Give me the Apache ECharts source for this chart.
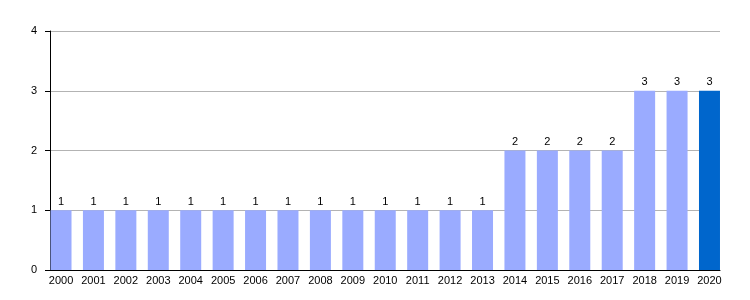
<!DOCTYPE html>
<html><head><meta charset="utf-8">
<script src="https://cdn.jsdelivr.net/npm/echarts@6/dist/echarts.min.js"></script>
<style>html,body{margin:0;padding:0;background:#fff}#c{width:750px;height:300px}</style>
</head><body><div id="c"></div>
<script>
const years = ['2000','2001','2002','2003','2004','2005','2006','2007','2008','2009','2010','2011','2012','2013','2014','2015','2016','2017','2018','2019','2020'];
const counts = [1,1,1,1,1,1,1,1,1,1,1,1,1,1,2,2,2,2,3,3,3];
const yTicks = [0,1,2,3,4];
const lightBlue = '#9aabff';
const darkBlue = '#0066cc';
const font = 'Liberation Sans, Arial, sans-serif';
const chart = echarts.init(document.getElementById('c'), null, {renderer:'canvas'});
chart.setOption({
  animation:false,
  grid:[
    {left:50, right:30, top:31, bottom:30},
    {left:44.8, right:24.3, top:31, bottom:30}
  ],
  xAxis:[
    {gridIndex:0, type:'value', min:0, max:1, axisLine:{show:true, lineStyle:{color:'#000', width:1}}, axisTick:{show:false}, axisLabel:{show:false}, splitLine:{show:false}},
    {gridIndex:1, type:'category', data:years, axisLine:{show:false}, axisTick:{show:false}, axisLabel:{color:'#000', fontSize:11, fontFamily:font, margin:5}}
  ],
  yAxis:[
    {gridIndex:0, type:'value', min:yTicks[0], max:yTicks[yTicks.length-1], interval:1,
     axisLine:{show:true, lineStyle:{color:'#000', width:1}},
     axisTick:{show:true, length:5, lineStyle:{color:'#000'}},
     axisLabel:{color:'#000', fontSize:11, fontFamily:font, margin:13},
     splitLine:{show:true, lineStyle:{color:'#b3b3b3', width:1}}},
    {gridIndex:1, type:'value', min:0, max:4, show:false}
  ],
  series:[{
    type:'bar', xAxisIndex:1, yAxisIndex:1, barWidth:21,
    data: counts.map((v,i)=>({value:v, itemStyle:{color: i===counts.length-1 ? darkBlue : lightBlue}})),
    label:{show:true, position:'top', distance:3, color:'#000', fontSize:11, fontFamily:font}
  }]
});
</script></body></html>
